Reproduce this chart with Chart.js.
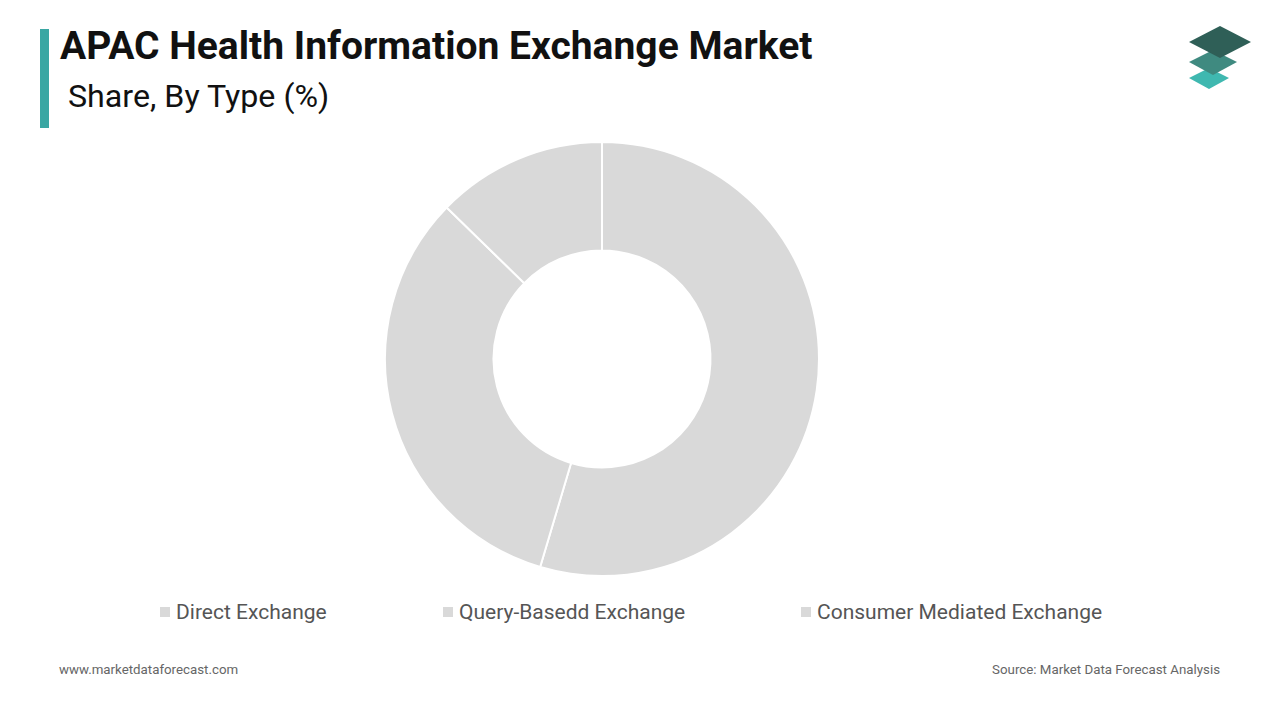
<!DOCTYPE html>
<html><head><meta charset="utf-8">
<script src="https://cdn.jsdelivr.net/npm/chart.js@4"></script>
<style>
body{margin:0;width:1280px;height:720px;background:#fff;font-family:Roboto,"Open Sans",sans-serif;position:relative;overflow:hidden}
#bar{position:absolute;left:40px;top:29px;width:9px;height:99px;background:#3aa7a3}
#t{position:absolute;left:60px;top:23px;font-size:39px;font-weight:bold;color:#111}
#s{position:absolute;left:68px;top:77px;font-size:32.2px;color:#111}
#c{position:absolute;left:380px;top:137px;width:444px;height:444px}
.lg{position:absolute;top:600px;font-size:21px;color:#555}
.lg span{display:inline-block;width:10px;height:10px;background:#d9d9d9;margin-right:6px;vertical-align:2px}
.ft{position:absolute;top:662px;font-size:13.3px;color:#666}
</style></head><body>
<div id="bar"></div>
<div id="t">APAC Health Information Exchange Market</div>
<div id="s">Share, By Type (%)</div>
<svg style="position:absolute;left:1186px;top:22px" width="68" height="72">
<polygon points="3,56 23,46 43,56 23,67" fill="#3fb8b0"/>
<polygon points="3,40 27,28 51,40 27,53" fill="#3f8a80"/>
<polygon points="3,20 34,4 65,20 34,36" fill="#2f5f57"/>
</svg>
<div id="c"><canvas id="cv"></canvas></div>
<div class="lg" style="left:160px"><span></span>Direct Exchange</div>
<div class="lg" style="left:443px"><span></span>Query-Basedd Exchange</div>
<div class="lg" style="left:801px"><span></span>Consumer Mediated Exchange</div>
<div class="ft" style="left:59px">www.marketdataforecast.com</div>
<div class="ft" style="right:60px">Source: Market Data Forecast Analysis</div>
<script>
const categories=["Direct Exchange","Query-Basedd Exchange","Consumer Mediated Exchange"];
const shares=[54.6,32.7,12.7];
new Chart(document.getElementById('cv'),{type:'doughnut',
data:{labels:categories,datasets:[{data:shares,backgroundColor:'#d9d9d9',borderColor:'#fff',borderWidth:2}]},
options:{responsive:true,maintainAspectRatio:false,animation:false,cutout:'50%',layout:{padding:4},
plugins:{legend:{display:false},tooltip:{enabled:false}}}});
</script>
</body></html>
